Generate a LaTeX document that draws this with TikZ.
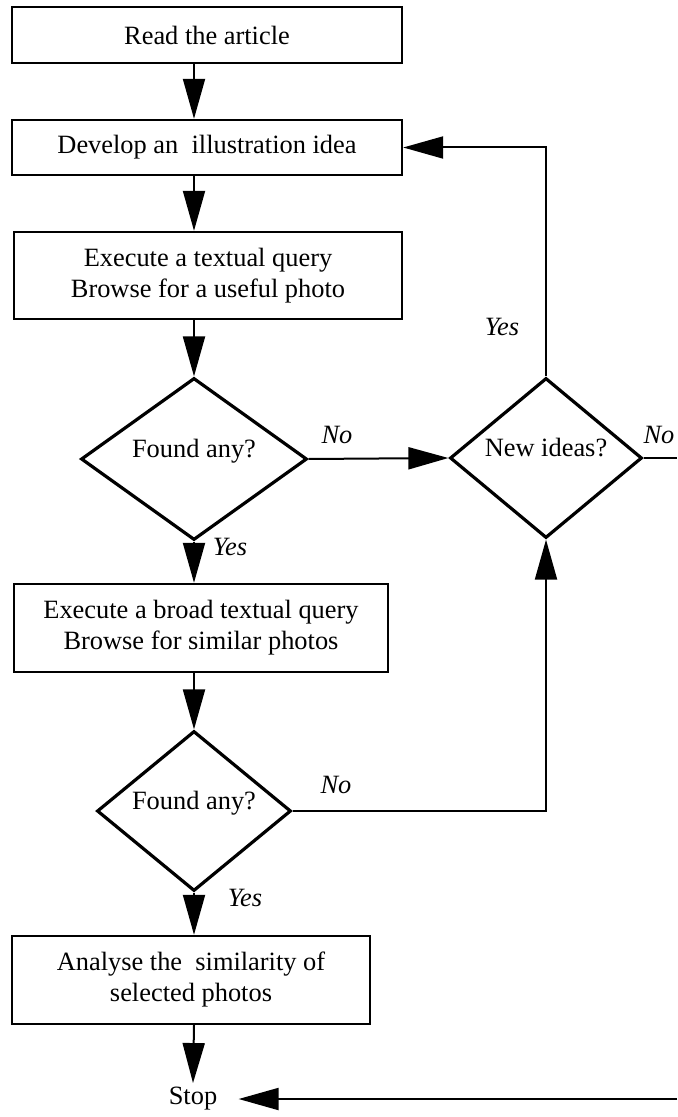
\documentclass[tikz,border=0pt]{standalone}
\usepackage{fontspec}
\setmainfont{Liberation Serif}
\usetikzlibrary{shapes.geometric,arrows.meta}

\tikzset{
    stepbox/.style={draw, line width=1.2pt, rectangle, align=center, inner sep=0pt},
    decision/.style={draw, line width=1.6pt, diamond, aspect=1.5, inner sep=0pt,
        text height=9pt, text depth=11pt},
    flow/.style={line width=1pt, -{Triangle[length=20pt,width=11pt]}},
    link/.style={line width=1pt},
    answer/.style={font=\fontsize{13.2}{15.5}\selectfont\itshape},
}

\begin{document}
\begin{tikzpicture}[x=0.5pt, y=-0.5pt, font=\fontsize{13.2}{15.5}\selectfont]
    \useasboundingbox (0,0) rectangle (677,1117);
    % boxes and decisions
    \node [stepbox, minimum width=195pt, minimum height=28pt] (read) at (207,35) {Read the article};
    \node [stepbox, minimum width=195pt, minimum height=27.5pt] (develop) at (207,147.5) {Develop an~ illustration idea};
    \node [stepbox, minimum width=194pt, minimum height=43.5pt] (query) at (208,275.5) {Execute a textual query\\Browse for a useful photo};
    \node [decision, minimum width=113pt, minimum height=81pt] (found1) at (194,459) {Found any?};
    \node [stepbox, minimum width=187pt, minimum height=44pt] (broad) at (201,628) {Execute a broad textual query\\Browse for similar photos};
    \node [decision, minimum width=97pt, minimum height=80pt] (found2) at (194,811) {Found any?};
    \node [stepbox, minimum width=179pt, minimum height=44pt] (analyse) at (191,980) {Analyse the~ similarity of\\selected photos};
    \node [inner xsep=10.5pt, inner ysep=2pt] (stop) at (193,1099) {Stop};
    \node [decision, minimum width=96pt, minimum height=80pt] (ideas) at (546,458) {New ideas?};
    \coordinate (edgeno) at (677,458);
    \coordinate (edgestop) at (677,1099);
    % labels
    \node [answer] (yes1) at (230,547) {Yes};
    \node [answer] (no1) at (337,435) {No};
    \node [answer] (yes2) at (245,898) {Yes};
    \node [answer] (no2) at (336,785) {No};
    \node [answer] (yes3) at (502,327) {Yes};
    \node [answer] (no3) at (659,435) {No};
    % main line
    \draw [flow] (read.south -| found1.north) -- (develop.north -| found1.north);
    \draw [flow] (develop.south -| found1.north) -- (query.north -| found1.north);
    \draw [flow] (query.south -| found1.north) -- (found1.north);
    \draw [flow] (found1.south) -- (broad.north -| found1.south);
    \draw [flow] (broad.south -| found1.south) -- (found2.north);
    \draw [flow] (found2.south) -- (analyse.north -| found2.south);
    \draw [flow] (analyse.south -| found2.south) -- (stop.north);
    % loop back
    \draw [flow] (found1.east) -- (ideas.west);
    \draw [flow] (found2.east) -- (found2.east -| ideas.south) -- (ideas.south);
    \draw [flow] (ideas.north) |- (develop.east);
    \draw [link] (ideas.east) -- (edgeno);
    \draw [flow] (edgestop) -- (stop.east);
\end{tikzpicture}
\end{document}
